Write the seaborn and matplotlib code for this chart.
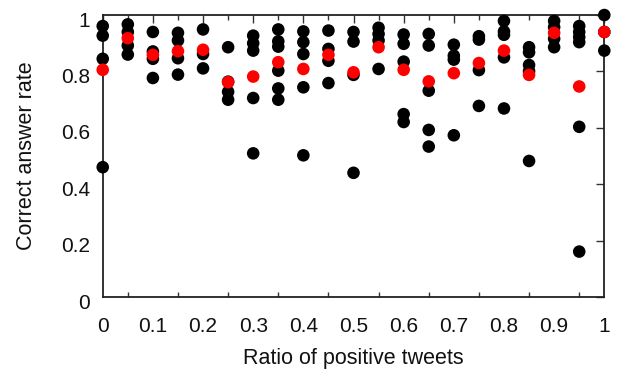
import numpy as np
import pandas as pd
import matplotlib
matplotlib.use("Agg")
import matplotlib.pyplot as plt
import matplotlib.transforms as mtransforms
import seaborn as sns

# ratio of positive tweets (x positions)
ratios = [0.0, 0.05, 0.1, 0.15, 0.2, 0.25, 0.3, 0.35, 0.4, 0.45, 0.5,
          0.55, 0.6, 0.65, 0.7, 0.75, 0.8, 0.85, 0.9, 0.95, 1.0]

# individual correct answer rates (black dots), one list per ratio
individual_rates = [
    [0.961, 0.927, 0.845, 0.461],
    [0.967, 0.940, 0.892, 0.860],
    [0.940, 0.871, 0.845, 0.777],
    [0.937, 0.910, 0.847, 0.789],
    [0.949, 0.862, 0.811],
    [0.886, 0.764, 0.728, 0.700],
    [0.927, 0.900, 0.874, 0.706, 0.510],
    [0.949, 0.907, 0.888, 0.803, 0.740, 0.700],
    [0.942, 0.904, 0.862, 0.744, 0.503],
    [0.945, 0.880, 0.838, 0.759],
    [0.940, 0.906, 0.788, 0.441],
    [0.955, 0.933, 0.910, 0.809],
    [0.931, 0.898, 0.835, 0.649, 0.621],
    [0.933, 0.892, 0.732, 0.593, 0.534],
    [0.895, 0.856, 0.842, 0.574],
    [0.925, 0.913, 0.805, 0.678],
    [0.979, 0.942, 0.930, 0.850, 0.669],
    [0.886, 0.868, 0.823, 0.801, 0.483],
    [0.979, 0.957, 0.916, 0.886],
    [0.961, 0.940, 0.922, 0.904, 0.604, 0.162],
    [1.000, 0.940, 0.874],
]

# average correct answer rate (red dots)
mean_rates = [0.806, 0.918, 0.859, 0.872, 0.877, 0.762, 0.782, 0.833, 0.809,
              0.859, 0.797, 0.886, 0.806, 0.765, 0.794, 0.830, 0.874, 0.788,
              0.937, 0.747, 0.940]

# axis ticks
x_major = [0, 0.1, 0.2, 0.3, 0.4, 0.5, 0.6, 0.7, 0.8, 0.9, 1.0]
x_major_labels = ["0", "0.1", "0.2", "0.3", "0.4", "0.5", "0.6", "0.7", "0.8", "0.9", "1"]
x_minor = [0.05, 0.15, 0.25, 0.35, 0.45, 0.55, 0.65, 0.75, 0.85, 0.95]
y_major = [0, 0.2, 0.4, 0.6, 0.8, 1.0]
y_major_labels = ["0", "0.2", "0.4", "0.6", "0.8", "1"]

rows = []
for r, vals in zip(ratios, individual_rates):
    for v in vals:
        rows.append({"ratio": r, "rate": v})
df = pd.DataFrame(rows)
df_mean = pd.DataFrame({"ratio": ratios, "rate": mean_rates})

sns.set_style("white")
plt.rcParams['font.family'] = ['Liberation Sans', 'DejaVu Sans']

fig = plt.figure(figsize=(6.17, 3.76), dpi=100)
ax = fig.add_axes([0.1665, 0.2093, 0.8129, 0.7507])

sns.scatterplot(data=df, x="ratio", y="rate", color="black", s=82,
                edgecolor="none", ax=ax, clip_on=False, zorder=3)
sns.scatterplot(data=df_mean, x="ratio", y="rate", color="#ff0000", s=82,
                edgecolor="none", ax=ax, clip_on=False, zorder=4)

ax.set_xlim(0, 1)
ax.set_ylim(0, 1)
ax.set_xticks(x_major)
ax.set_xticklabels(x_major_labels)
ax.set_xticks(x_minor, minor=True)
ax.set_yticks(y_major)
ax.set_yticklabels(y_major_labels)
ax.tick_params(which="major", direction="in", length=6, width=1, color="#333333",
               top=True, right=True, labelsize=15, labelcolor="#111111")
ax.tick_params(which="minor", direction="in", length=3.5, width=1, color="#333333",
               bottom=True, top=True, right=False)
ax.tick_params(axis="x", which="major", pad=14)
ax.tick_params(axis="y", which="major", pad=9)

# y tick labels sit a little below their ticks in the original
shift = mtransforms.ScaledTranslation(0, -4 / 100, fig.dpi_scale_trans)
for lab in ax.get_yticklabels():
    lab.set_transform(lab.get_transform() + shift)

for sp in ax.spines.values():
    sp.set_visible(True)
    sp.set_color("#222222")
    sp.set_linewidth(1.3)

ax.set_xlabel("Ratio of positive tweets", fontsize=15.5, labelpad=9, color="#111111")
ax.set_ylabel("Correct answer rate", fontsize=15.5, labelpad=17, color="#111111")

fig.savefig("out.png", dpi=100)
